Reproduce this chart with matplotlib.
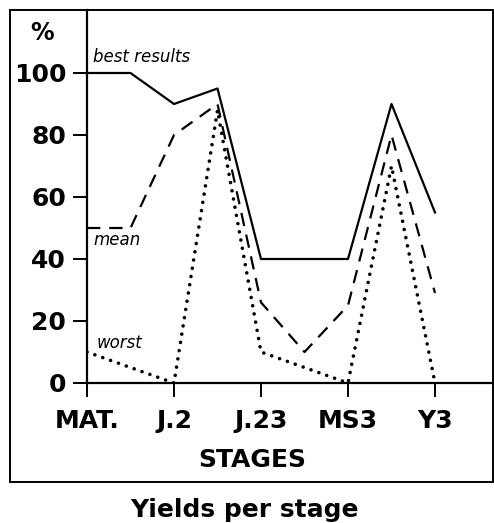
import matplotlib.pyplot as plt
from matplotlib.patches import Rectangle

plt.rcParams['font.family'] = ['DejaVu Sans']

stages = ['MAT.', 'J.2', 'J.23', 'MS3', 'Y3']
yticks = [0, 20, 40, 60, 80, 100]

best_x = [0, 0.5, 1, 1.5, 2, 3, 3.5, 4]
best_y = [100, 100, 90, 95, 40, 40, 90, 55]

mean_x = [0, 0.5, 1, 1.5, 2, 2.5, 3, 3.5, 4]
mean_y = [50, 50, 80, 90, 26, 10, 25, 80, 29]

worst_x = [0, 1, 1.5, 2, 3, 3.5, 4]
worst_y = [10, 0, 88, 10, 0, 70, 0]

W, H = 494, 523
fig = plt.figure(figsize=(W / 100, H / 100), dpi=100)
ax = fig.add_axes([87 / W, (H - 383) / H, (W - 87) / W, 373 / H])

ax.plot(best_x, best_y, color='black', lw=1.6)
ax.plot(mean_x, mean_y, color='black', lw=1.6, dashes=(6, 4))
ax.plot(worst_x, worst_y, color='black', lw=2.6, linestyle=(0, (0.01, 2.3)),
        dash_capstyle='round')

ax.set_xlim(0, (W - 87) / 87)
ax.set_ylim(0, 373 / 3.1)
ax.set_xticks(range(len(stages)))
ax.set_xticklabels(stages)
ax.set_yticks(yticks)

for s in ['top', 'right']:
    ax.spines[s].set_visible(False)
for s in ['left', 'bottom']:
    ax.spines[s].set_linewidth(1.6)

ax.tick_params(axis='both', length=10, width=1.4, labelsize=18, direction='out')
ax.tick_params(axis='y', pad=5)
ax.tick_params(axis='x', pad=9)
for lab in ax.get_xticklabels() + ax.get_yticklabels():
    lab.set_fontweight('bold')

ax.text(0.07, 105, 'best results', style='italic', fontsize=12, ha='left', va='center')
ax.text(0.07, 46, 'mean', style='italic', fontsize=12, ha='left', va='center')
ax.text(0.11, 13, 'worst', style='italic', fontsize=12, ha='left', va='center')

fig.text(42 / W, 1 - 33 / H, '%', fontsize=17, fontweight='bold', ha='center', va='center')
fig.text(252 / W, (H - 467) / H, 'STAGES', fontsize=18, fontweight='bold', ha='center', va='baseline')
fig.text(244 / W, (H - 517) / H, 'Yields per stage', fontsize=18, fontweight='bold', ha='center', va='baseline')

fig.patches.append(Rectangle((10 / W, (H - 482) / H), 483 / W, 472 / H,
                             transform=fig.transFigure, fill=False,
                             edgecolor='black', lw=1.4))

fig.savefig('out.png', dpi=100)
